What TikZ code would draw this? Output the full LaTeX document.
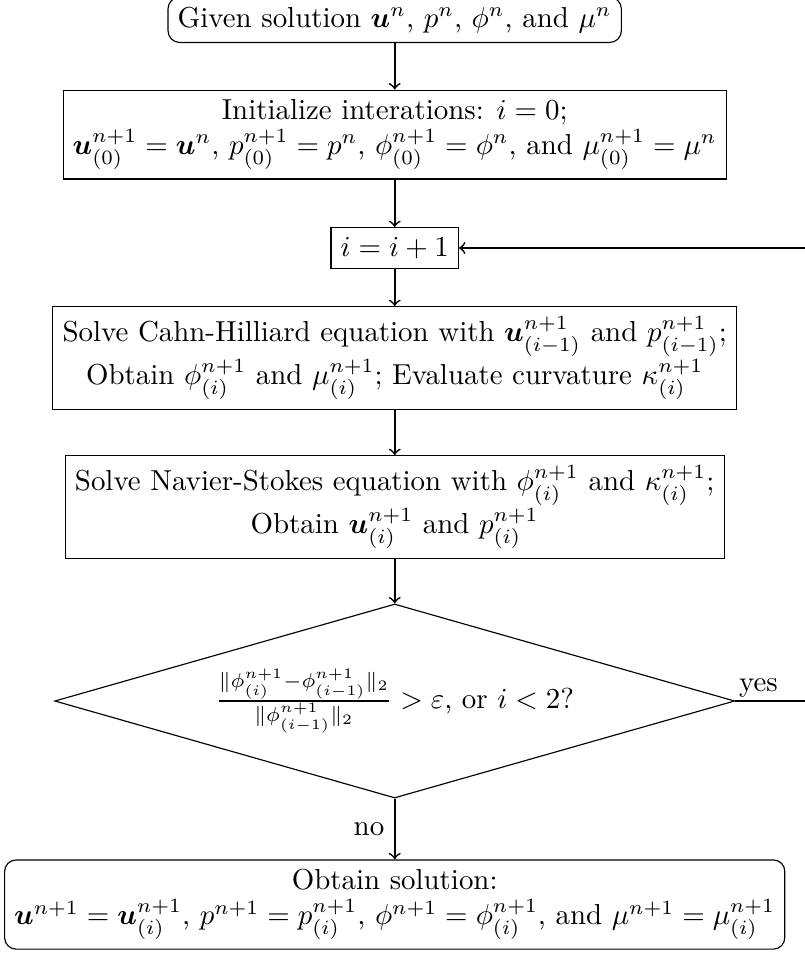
\documentclass[tikz,border=0pt]{standalone}
\usepackage{amsmath,bm}
\usetikzlibrary{shapes.geometric}

\begin{document}
\begin{tikzpicture}[
    block/.style={draw, align=center},
    term/.style={draw, rounded corners, align=center},
    decision/.style={draw, diamond, shape aspect=3.5, minimum width=8.27cm, minimum height=2.36cm, inner sep=0pt},
    link/.style={->, semithick},
  ]
  \useasboundingbox (0,0) rectangle (9.778,-11.626);

  % Start and stop
  \node[term, anchor=south] (start) at (4.80,-0.523) {Given solution $\bm{u}^n$, $p^n$, $\phi^n$, and $\mu^n$};
  \node[term] (stop) at (4.80,-11.0) {Obtain solution:\\
    $\bm{u}^{n+1}=\bm{u}^{n+1}_{(i)}$, $p^{n+1}=p^{n+1}_{(i)}$, $\phi^{n+1}=\phi^{n+1}_{(i)}$, and $\mu^{n+1}=\mu^{n+1}_{(i)}$};

  % Iteration steps
  \node[block] (init) at (4.80,-1.636) {Initialize interations: $i=0$;\\
    $\bm{u}^{n+1}_{(0)}=\bm{u}^n$, $p^{n+1}_{(0)}=p^n$, $\phi^{n+1}_{(0)}=\phi^n$, and $\mu^{n+1}_{(0)}=\mu^n$};
  \node[block] (iter) at (4.80,-3.016) {$i=i+1$};
  \node[block] (ch) at (4.80,-4.354) {Solve Cahn-Hilliard equation with $\bm{u}^{n+1}_{(i-1)}$ and $p^{n+1}_{(i-1)}$;\\
    Obtain $\phi^{n+1}_{(i)}$ and $\mu^{n+1}_{(i)}$; Evaluate curvature $\kappa^{n+1}_{(i)}$};
  \node[block] (ns) at (4.80,-6.166) {Solve Navier-Stokes equation with $\phi^{n+1}_{(i)}$ and $\kappa^{n+1}_{(i)}$;\\
    Obtain $\bm{u}^{n+1}_{(i)}$ and $p^{n+1}_{(i)}$};

  % Convergence check
  \node[decision] (check) at (4.80,-8.525) {$\frac{\|\phi^{n+1}_{(i)}-\phi^{n+1}_{(i-1)}\|_2}{\|\phi^{n+1}_{(i-1)}\|_2}>\varepsilon$, or $i<2$?};
  \coordinate (back) at (9.90,-8.525);

  % Arrows
  \draw[link] (start) -- (init);
  \draw[link] (init) -- (iter);
  \draw[link] (iter) -- (ch);
  \draw[link] (ch) -- (ns);
  \draw[link] (ns) -- (check);
  \draw[link] (check) -- node[left] {no} (stop);
  \draw[link] (check.east) node[above right, inner sep=1pt] {yes} -- (back) |- (iter.east);
\end{tikzpicture}
\end{document}
